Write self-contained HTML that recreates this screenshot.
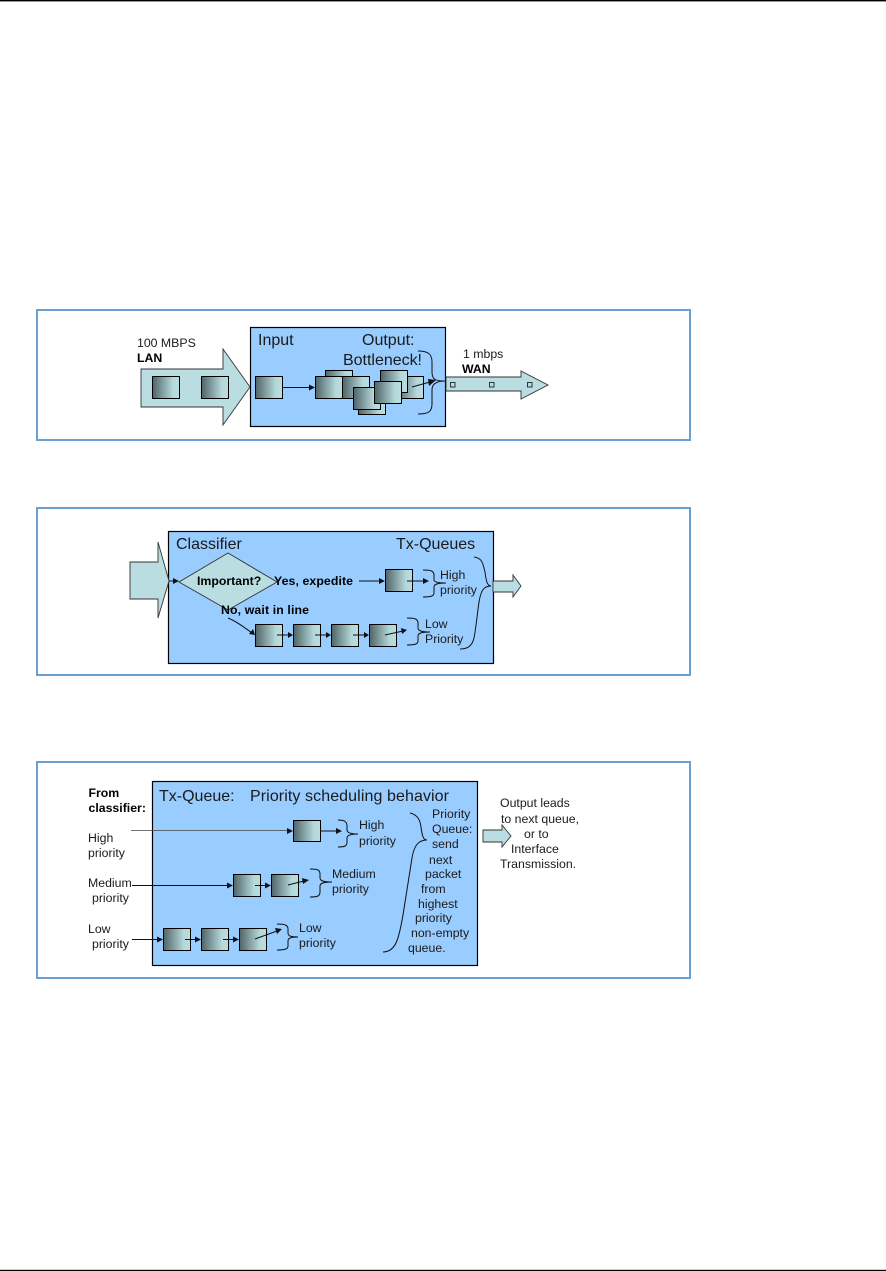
<!DOCTYPE html>
<html><head><meta charset="utf-8"><title>Diagram</title>
<style>
html,body{margin:0;padding:0;background:#fff;width:886px;height:1271px;overflow:hidden}
svg{display:block;position:absolute;left:0;top:0}
text{font-family:"Liberation Sans",sans-serif;font-size:12.3px;fill:#1a1a1a}
.h{font-size:16px}
.b{font-weight:bold;fill:#000}
.o{fill:none;stroke:#6b9fd3;stroke-width:2}
.p{fill:#99ccff;stroke:#000;stroke-width:1.2}
.a{fill:#b9dde0;stroke:#333;stroke-width:.9}
.q{fill:url(#g);stroke:#000;stroke-width:1}
.l{fill:none;stroke:#111;stroke-width:1}
.br{fill:none;stroke:#111;stroke-width:1}
.t{fill:#111}
.d{filter:blur(.3px)}
</style></head><body>
<svg width="886" height="1271" viewBox="0 0 886 1271" xmlns="http://www.w3.org/2000/svg">
<defs>
<linearGradient id="g" x1="0" x2="1" y1="0" y2="0"><stop offset="0" stop-color="#4f6466"/><stop offset=".75" stop-color="#b4d8db"/><stop offset="1" stop-color="#b9dde0"/></linearGradient>
</defs>
<rect x="0" y="0" width="886" height="1.4" fill="#000"/>
<rect x="0" y="1269.8" width="886" height="1.2" fill="#000"/>

<g class="d">
<!-- Diagram 1 -->
<rect class="o" x="37" y="310" width="653" height="130"/>
<rect class="p" x="250.500" y="327.500" width="195" height="99"/>
<polygon class="a" points="141,369 223,369 223,349 250,387 223,425 223,407 141,407"/>
<rect class="q" x="152.500" y="376.500" width="27" height="22"/>
<rect class="q" x="201.500" y="376.500" width="27" height="22"/>
<rect class="q" x="255.500" y="376.500" width="27" height="22"/>
<line class="l" x1="283" y1="387.500" x2="310" y2="387.500"/>
<polygon class="t" points="315,387.500 309,384.500 309,390.500"/>
<rect class="q" x="325.500" y="370.500" width="27" height="22"/>
<rect class="q" x="342.500" y="376.500" width="27" height="22"/>
<rect class="q" x="315.500" y="376.500" width="27" height="22"/>
<rect class="q" x="358.500" y="393.500" width="27" height="21"/>
<rect class="q" x="353.500" y="387.500" width="27" height="22"/>
<rect class="q" x="396.500" y="376.500" width="27" height="22"/>
<rect class="q" x="380.500" y="370.500" width="27" height="22"/>
<rect class="q" x="374.500" y="381.500" width="27" height="22"/>
<line class="l" x1="412" y1="387" x2="430" y2="382"/>
<polygon class="t" points="436,380 428,379 429,386"/>
<path class="br" d="M418,351 C428,351 432,354 432,362 L432,372 C432,380 436,381 445,381 C436,381 432,384 432,390 L432,404 C432,412 428,414 418,414"/>
<polygon class="a" points="446,377 521,377 521,371 548,385 521,399 521,391 446,391"/>
<rect x="450.500" y="382.500" width="4.500" height="4.500" fill="#b9dde0" stroke="#222" stroke-width=".9"/>
<rect x="489.500" y="382.500" width="4.500" height="4.500" fill="#b9dde0" stroke="#222" stroke-width=".9"/>
<rect x="527.500" y="382.500" width="4.500" height="4.500" fill="#b9dde0" stroke="#222" stroke-width=".9"/>
<text x="137" y="347">100 MBPS</text>
<text class="b" x="137" y="362">LAN</text>
<text class="h" x="258" y="345">Input</text>
<text class="h" x="362" y="345">Output:</text>
<text class="h" x="343" y="365" textLength="79">Bottleneck!</text>
<text x="463" y="358">1 mbps</text>
<text class="b" x="462" y="373">WAN</text>

<!-- Diagram 2 -->
<rect class="o" x="37" y="508" width="653" height="167"/>
<rect class="p" x="168.500" y="531.500" width="325" height="132"/>
<polygon class="a" points="130,562 158,562 158,542 169,581 158,618 158,599 130,599"/>
<line class="l" x1="169" y1="581" x2="175" y2="581"/>
<polygon class="t" points="179,581 173,578 173,584"/>
<polygon class="a" points="179,582 228,553 277,582 228,610"/>
<text class="h" x="176" y="549">Classifier</text>
<text class="h" x="396" y="549">Tx-Queues</text>
<text class="b" x="197" y="585">Important?</text>
<text class="b" x="274" y="585" textLength="79">Yes, expedite</text>
<text class="b" x="221" y="614" textLength="88">No, wait in line</text>
<line class="l" x1="359" y1="581" x2="381" y2="581"/>
<polygon class="t" points="385,581 379,578 379,584"/>
<rect class="q" x="385.500" y="569.500" width="27" height="22"/>
<line class="l" x1="407" y1="581" x2="424" y2="581"/>
<polygon class="t" points="429,581 423,578 423,584"/>
<path class="br" d="M423,570 C431,570 434,571 434,575 L434,580 C434,582 438,583 446,583 C438,583 434,584 434,587 L434,593 C434,596 431,597 423,597"/>
<text x="440" y="579">High</text>
<text x="440" y="594">priority</text>
<rect class="q" x="255.500" y="624.500" width="27" height="22"/>
<rect class="q" x="293.500" y="624.500" width="27" height="22"/>
<rect class="q" x="331.500" y="624.500" width="27" height="22"/>
<rect class="q" x="369.500" y="624.500" width="27" height="22"/>
<line class="l" x1="277" y1="635" x2="289" y2="635"/><polygon class="t" points="293,635 288,632 288,638"/>
<line class="l" x1="315" y1="635" x2="327" y2="635"/><polygon class="t" points="331,635 326,632 326,638"/>
<line class="l" x1="353" y1="635" x2="365" y2="635"/><polygon class="t" points="369,635 364,632 364,638"/>
<line class="l" x1="385" y1="635" x2="403" y2="631"/><polygon class="t" points="407,630 401,628 402,634"/>
<path class="br" d="M407,618 C415,618 418,619 418,623 L418,628 C418,631 422,632 430,632 C422,632 418,633 418,636 L418,641 C418,644 415,645 407,645"/>
<text x="425" y="628">Low</text>
<text x="425" y="643">Priority</text>
<path class="l" d="M228,618 C238,622 245,628 252,633"/><polygon class="t" points="255,635 253,629 249,634"/>
<path class="br" d="M474,557 C483,558 483,565 485,572 C486,580 487,586 491,586 C484,586 481,590 479,602 C477,616 476,628 474,638 C472,646 468,649 460,649"/>
<polygon class="a" points="493,581 513,581 513,575 521,586 513,597 513,592 493,592"/>

<!-- Diagram 3 -->
<rect class="o" x="37" y="762" width="653" height="216"/>
<rect class="p" x="152.500" y="781.500" width="325" height="184"/>
<text class="h" x="159" y="801">Tx-Queue:</text>
<text class="h" x="250" y="801" textLength="199">Priority scheduling behavior</text>
<text class="b" x="88.500" y="797">From</text>
<text class="b" x="88.500" y="812">classifier:</text>
<text x="88" y="842">High</text>
<text x="88" y="857">priority</text>
<text x="88" y="887">Medium</text>
<text x="92" y="902">priority</text>
<text x="88" y="933">Low</text>
<text x="92" y="948">priority</text>
<line x1="131" y1="830.500" x2="290" y2="830.500" stroke="#444" stroke-width=".8"/><polygon class="t" points="293,831 287,828 287,834"/>
<rect class="q" x="293.500" y="820.500" width="27" height="21"/>
<line class="l" x1="320" y1="831" x2="338" y2="831"/><polygon class="t" points="342,831 336,828 336,834"/>
<path class="br" d="M338,820 C345,820 347,822 347,826 L347,830 C347,833 351,834 358,834 C351,834 347,835 347,838 L347,842 C347,846 345,847 338,847"/>
<text x="359" y="829">High</text>
<text x="359" y="845">priority</text>
<line class="l" x1="132" y1="885.500" x2="229" y2="885.500"/><polygon class="t" points="233,885.500 227,882.500 227,888.500"/>
<rect class="q" x="233.500" y="874.500" width="27" height="22"/>
<rect class="q" x="271.500" y="874.500" width="27" height="22"/>
<line class="l" x1="255" y1="885.500" x2="267" y2="885.500"/><polygon class="t" points="271,885.500 265,882.500 265,888.500"/>
<line class="l" x1="288" y1="885" x2="304" y2="881"/><polygon class="t" points="309,880 302,878 303,884"/>
<path class="br" d="M310,869 C318,869 320,870 320,874 L320,878 C320,881 324,882 332,882 C324,882 320,883 320,886 L320,892 C320,896 318,897 310,897"/>
<text x="332" y="878">Medium</text>
<text x="332" y="893">priority</text>
<line class="l" x1="132" y1="939.500" x2="159" y2="939.500"/><polygon class="t" points="163,939.500 157,936.500 157,942.500"/>
<rect class="q" x="163.500" y="928.500" width="27" height="22"/>
<rect class="q" x="201.500" y="928.500" width="27" height="22"/>
<rect class="q" x="239.500" y="928.500" width="27" height="22"/>
<line class="l" x1="185" y1="939.500" x2="197" y2="939.500"/><polygon class="t" points="201,939.500 195,936.500 195,942.500"/>
<line class="l" x1="223" y1="939.500" x2="235" y2="939.500"/><polygon class="t" points="239,939.500 233,936.500 233,942.500"/>
<line class="l" x1="255" y1="939" x2="277" y2="931"/><polygon class="t" points="282,929 275,928 277,934"/>
<path class="br" d="M277,924 C285,924 288,925 288,929 L288,933 C288,936 291,937 298,937 C291,937 288,938 288,941 L288,946 C288,949 285,950 277,950"/>
<text x="299" y="932">Low</text>
<text x="299" y="947">priority</text>
<path class="br" d="M410,813 C418,815 420,820 421,827 C422,835 423,840 427,840 C418,840 414,846 412,858 L403,915 C399,938 396,952 383,952"/>
<text x="432" y="818">Priority</text>
<text x="432" y="833">Queue:</text>
<text x="432" y="848">send</text>
<text x="429" y="864">next</text>
<text x="425" y="878">packet</text>
<text x="421" y="893">from</text>
<text x="418" y="908">highest</text>
<text x="415" y="922">priority</text>
<text x="411" y="937">non-empty</text>
<text x="408" y="952">queue.</text>
<polygon class="a" points="483,830 502,830 502,825 511,836 502,847 502,842 483,842"/>
<text x="500" y="807">Output leads</text>
<text x="501" y="823" textLength="78">to next queue,</text>
<text x="524" y="838">or to</text>
<text x="511" y="853">Interface</text>
<text x="500" y="868">Transmission.</text>
</g>
</svg>
</body></html>
